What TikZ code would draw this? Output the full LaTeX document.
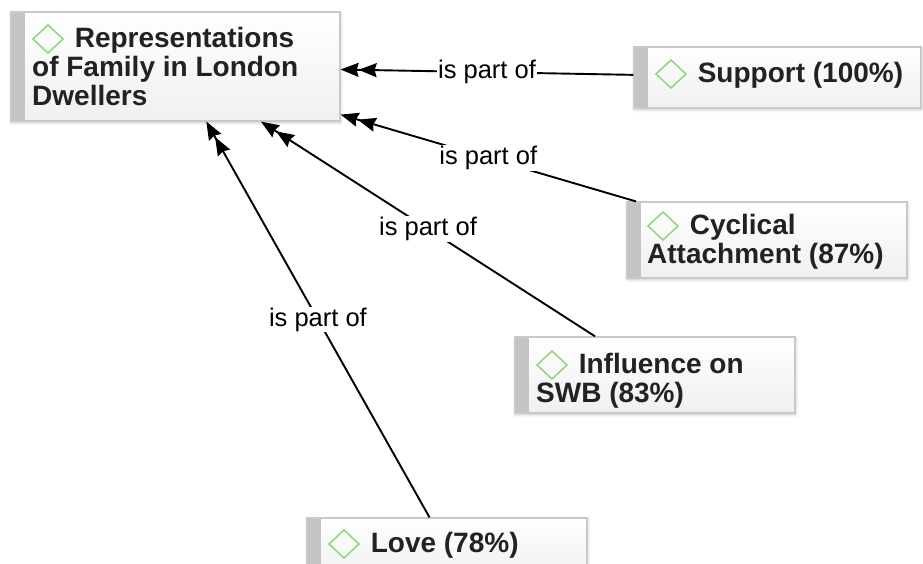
\documentclass[tikz,border=0pt]{standalone}
\usepackage{fontspec}
\setmainfont{Liberation Sans}
\usetikzlibrary{arrows.meta,shadows.blur}

\definecolor{gemgreen}{HTML}{98D488}
\definecolor{cardline}{HTML}{C9C9C9}
\definecolor{cardstrip}{HTML}{C4C4C4}
\definecolor{inkgray}{HTML}{222222}

% small open diamond that precedes every code name
\newcommand\gem{\tikz[baseline=0pt]\draw[gemgreen,line width=1.6pt,line join=miter]
  (0pt,8pt)--(15pt,22pt)--(30pt,8pt)--(15pt,-6pt)--cycle;\hspace{11pt}}

\tikzset{
  card/.style={draw=cardline, line width=1.2pt, top color=white, bottom color=black!6,
    inner sep=0pt,
    blur shadow={shadow xshift=0.5pt, shadow yshift=-1.5pt, shadow blur radius=3pt, shadow opacity=25},
    path picture={\fill[cardstrip] (path picture bounding box.north west)
      rectangle ([xshift=14pt]path picture bounding box.south west);}},
  % multi-line captions are anchored at the baseline of their last line
  cardlabel/.style={anchor=base west, align=left, inner sep=0pt, text=inkgray,
    font=\fontsize{28}{29}\selectfont\bfseries},
  link/.style={draw=black, line width=1.9pt,
    -{Stealth[length=18pt,width=14pt,inset=2pt]Stealth[length=18pt,width=14pt,inset=2pt]}},
  linklabel/.style={fill=white, inner sep=1pt, text=black,
    font=\fontsize{25.5}{28}\selectfont}
}

\begin{document}
\begin{tikzpicture}[x=1pt,y=-1pt]
  \useasboundingbox (0,0) rectangle (923,563);

  % code boxes
  \node[card, minimum width=329pt, minimum height=109pt] (rep)  at (175.5,66.5) {};
  \node[card, minimum width=287pt, minimum height=61pt]  (sup)  at (777.5,77.5) {};
  \node[card, minimum width=280pt, minimum height=76pt]  (cyc)  at (767,240) {};
  \node[card, minimum width=280pt, minimum height=76pt]  (inf)  at (655,375) {};
  \node[card, minimum width=280pt, minimum height=61pt]  (love) at (447,548.5) {};

  % box captions
  \node[cardlabel] (repT)  at (32,105)  {\gem Representations\\of Family in London\\Dwellers};
  \node[cardlabel] (supT)  at (655,82)  {\gem Support (100\%)};
  \node[cardlabel] (cycT)  at (647,263) {\gem Cyclical\\Attachment (87\%)};
  \node[cardlabel] (infT)  at (536,402) {\gem Influence on\\SWB (83\%)};
  \node[cardlabel] (loveT) at (328,552) {\gem Love (78\%)};

  % relations
  \draw[link] (sup)  -- node[linklabel] (l1) {is part of} (rep);
  \draw[link] (cyc)  -- node[linklabel] (l2) {is part of} (rep);
  \draw[link] (inf)  -- node[linklabel] (l3) {is part of} (rep);
  \draw[link] (love) -- node[linklabel] (l4) {is part of} (rep);
\end{tikzpicture}
\end{document}
